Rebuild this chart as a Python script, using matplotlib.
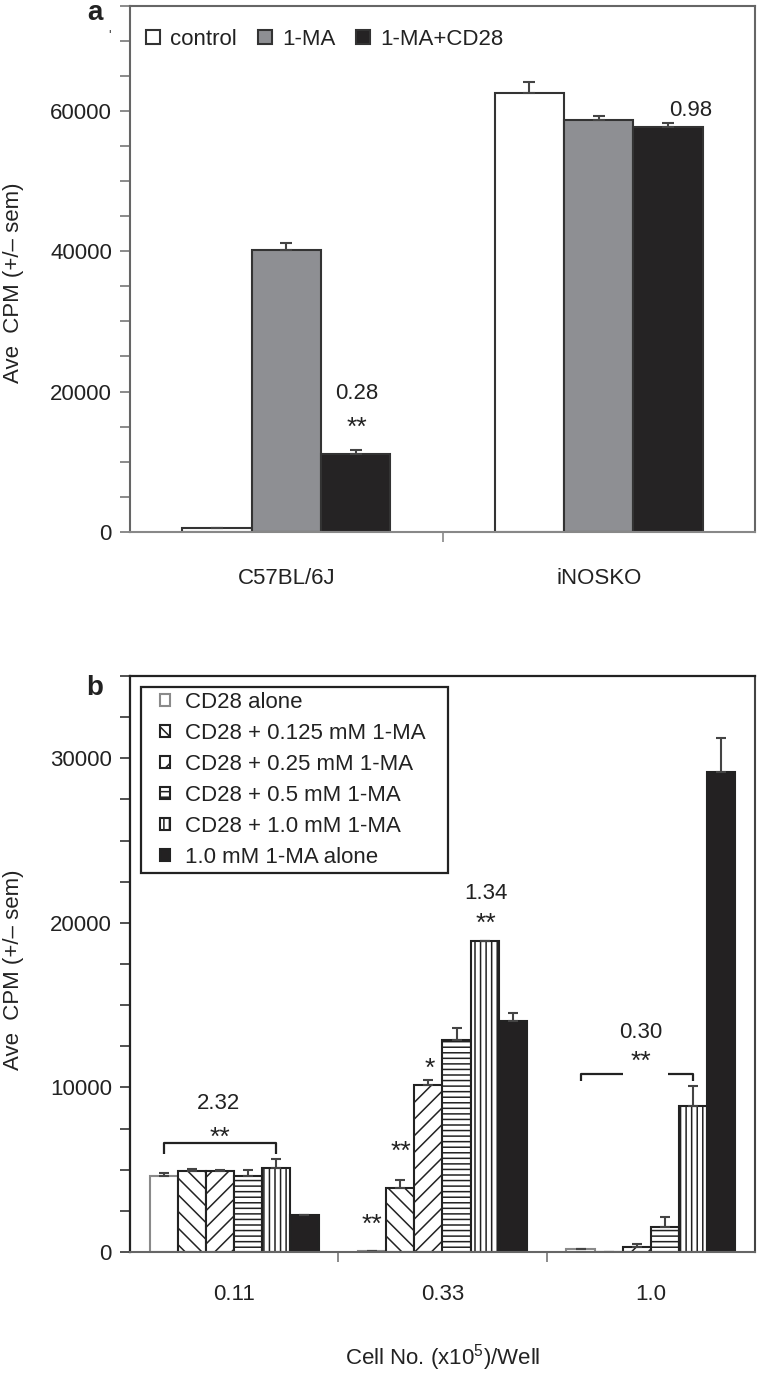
import numpy as np
import matplotlib
matplotlib.use('Agg')
import matplotlib.pyplot as plt
from matplotlib.patches import Rectangle
from matplotlib.ticker import MultipleLocator, FixedLocator, NullFormatter, FixedFormatter

plt.rcParams['font.family'] = ['Liberation Sans', 'DejaVu Sans']
plt.rcParams['mathtext.fontset'] = 'custom'
plt.rcParams['mathtext.rm'] = 'Liberation Sans'
plt.rcParams['mathtext.it'] = 'Liberation Sans:italic'
plt.rcParams['hatch.linewidth'] = 1.1
plt.rcParams['text.color'] = '#222222'

# ---------------- Panel a data ----------------
a_groups = ['C57BL/6J', 'iNOSKO']
a_series = ['control', '1-MA', '1-MA+CD28']
a_control = [490, 62650]
a_control_err = [100, 1450]
a_ma = [40200, 58760]
a_ma_err = [960, 500]
a_macd28 = [11120, 57680]
a_macd28_err = [470, 680]

# ---------------- Panel b data ----------------
b_groups = ['0.11', '0.33', '1.0']
b_series = ['CD28 alone', 'CD28 + 0.125 mM 1-MA', 'CD28 + 0.25 mM 1-MA',
            'CD28 + 0.5 mM 1-MA', 'CD28 + 1.0 mM 1-MA', '1.0 mM 1-MA alone']
b_cd28 = [4600, 60, 170]
b_cd28_err = [170, 0, 0]
b_0125 = [4930, 3900, 0]
b_0125_err = [140, 460, 0]
b_025 = [4930, 10120, 300]
b_025_err = [60, 360, 180]
b_05 = [4600, 12890, 1500]
b_05_err = [370, 710, 600]
b_10 = [5130, 18910, 8870]
b_10_err = [510, 0, 1210]
b_alone = [2240, 14060, 29170]
b_alone_err = [0, 470, 2050]

# annotations (text, x, baseline y)
a_notes = [('0.28', 0.225, 18880), ('**', 0.225, 13830), ('0.98', 1.295, 59240)]
b_notes = [('2.32', -0.074, 8685), ('**', -0.068, 6480),
           ('1.34', 1.209, 21450), ('**', 1.207, 19530),
           ('*', 0.94, 10730), ('**', 0.80, 5640), ('**', 0.662, 1230),
           ('0.30', 1.953, 13030), ('**', 1.953, 11150)]

W, H = 758, 1373
fig = plt.figure(figsize=(W / 100, H / 100), dpi=100)

def note_size(t):
    return 19 if set(t) == {'*'} else 16

# ================= Panel a =================
axa = fig.add_axes([130 / W, 1 - 531.7 / H, 625 / W, 525.7 / H])
xa = np.arange(len(a_groups))
wa = 0.222
a_vals = [a_control, a_ma, a_macd28]
a_errs = [a_control_err, a_ma_err, a_macd28_err]
a_colors = ['white', '#8e8f93', '#252324']
a_handles = []
for i, (vals, errs, col, name) in enumerate(zip(a_vals, a_errs, a_colors, a_series)):
    b = axa.bar(xa + (i - 1) * wa, vals, wa, color=col, edgecolor='#333333', linewidth=1.5,
                yerr=[np.zeros(len(errs)), errs],
                error_kw=dict(ecolor='#444444', elinewidth=1.5, capsize=4.5, capthick=1.5),
                label=name, zorder=2)
    a_handles.append(b)

axa.set_xlim(-0.5, 1.5)
axa.set_ylim(0, 75000)
axa.yaxis.set_major_locator(MultipleLocator(20000))
axa.yaxis.set_minor_locator(MultipleLocator(5000))
axa.tick_params(axis='y', which='both', direction='out', length=7, width=1.2, color='#777777',
                labelsize=16, labelcolor='#222222', pad=6)
axa.xaxis.set_major_locator(FixedLocator([0.5]))
axa.xaxis.set_major_formatter(NullFormatter())
axa.xaxis.set_minor_locator(FixedLocator(list(xa)))
axa.xaxis.set_minor_formatter(FixedFormatter(a_groups))
axa.tick_params(axis='x', which='major', direction='out', length=7, width=1.2, color='#888888')
axa.tick_params(axis='x', which='minor', length=0, labelsize=16, labelcolor='#222222', pad=26)
for s in ['top', 'right', 'left']:
    axa.spines[s].set_color('#666666')
    axa.spines[s].set_linewidth(1.5)
axa.spines['bottom'].set_color('#888888')
axa.spines['bottom'].set_linewidth(1.5)
axa.set_ylabel('Ave  CPM (+/\u2013 sem)', fontsize=16, color='#222222')
axa.yaxis.set_label_coords(-0.1864, 0.474)
axa.yaxis.label.set_va('center')
axa.legend(handles=a_handles, loc='center left', bbox_to_anchor=(0.0256, 0.937), frameon=False,
           ncol=3, handlelength=0.63, handleheight=0.63, handletextpad=0.45, columnspacing=0.95,
           borderpad=0, borderaxespad=0, fontsize=16)
for txt, x, y in a_notes:
    axa.text(x, y, txt, fontsize=note_size(txt), ha='center', va='baseline', color='#222222', zorder=5)

# ================= Panel b =================
axb = fig.add_axes([130 / W, 1 - 1252 / H, 625 / W, 576 / H])
xb = np.arange(len(b_groups))
wb = 0.135
b_vals = [b_cd28, b_0125, b_025, b_05, b_10, b_alone]
b_errs = [b_cd28_err, b_0125_err, b_025_err, b_05_err, b_10_err, b_alone_err]
b_colors = ['white', 'white', 'white', 'white', 'white', '#232122']
b_hatches = [None, '\\\\', '//', '---', '|||', None]
b_edges = ['#8a8a8a', '#222222', '#222222', '#222222', '#222222', '#222222']
b_handles = []
for i, (vals, errs, col, hat, ec, name) in enumerate(zip(b_vals, b_errs, b_colors, b_hatches, b_edges, b_series)):
    b = axb.bar(xb + (i - 2.5) * wb, vals, wb, color=col, edgecolor=ec, linewidth=1.5, hatch=hat,
                yerr=[np.zeros(len(errs)), errs],
                error_kw=dict(ecolor='#444444', elinewidth=1.5, capsize=3.5, capthick=1.5),
                label=name, zorder=2)
    b_handles.append(b)

axb.set_xlim(-0.5, 2.5)
axb.set_ylim(0, 35000)
axb.yaxis.set_major_locator(MultipleLocator(10000))
axb.yaxis.set_minor_locator(MultipleLocator(2500))
axb.tick_params(axis='y', which='both', direction='out', length=7, width=1.2, color='#333333',
                labelsize=16, labelcolor='#222222', pad=6)
axb.xaxis.set_major_locator(FixedLocator([0.5, 1.5]))
axb.xaxis.set_major_formatter(NullFormatter())
axb.xaxis.set_minor_locator(FixedLocator(list(xb)))
axb.xaxis.set_minor_formatter(FixedFormatter(b_groups))
axb.tick_params(axis='x', which='major', direction='out', length=7, width=1.2, color='#777777')
axb.tick_params(axis='x', which='minor', length=0, labelsize=16, labelcolor='#222222', pad=23)
for s in ['top', 'left']:
    axb.spines[s].set_color('#222222')
    axb.spines[s].set_linewidth(1.6)
axb.spines['right'].set_color('#444444')
axb.spines['right'].set_linewidth(1.5)
axb.spines['bottom'].set_color('#666666')
axb.spines['bottom'].set_linewidth(1.5)
axb.set_ylabel('Ave  CPM (+/\u2013 sem)', fontsize=16, color='#222222')
axb.yaxis.set_label_coords(-0.1864, 0.49)
axb.yaxis.label.set_va('center')
axb.set_xlabel('Cell No. (x10$^{5}$)/Well', fontsize=16, color='#222222')
axb.xaxis.set_label_coords(0.5, -0.184)
axb.xaxis.label.set_va('center')

axb.legend(handles=b_handles, loc='center left', bbox_to_anchor=(0.048, 0.82), frameon=False,
           ncol=1, handlelength=0.45, handleheight=0.45, handletextpad=0.68, labelspacing=0.45,
           borderpad=0, borderaxespad=0, fontsize=16)
axb.add_patch(Rectangle((0.0171, 0.658), 0.5088 - 0.0171, 0.9814 - 0.658, transform=axb.transAxes,
                        fill=False, edgecolor='#222222', linewidth=1.6, zorder=4))

for txt, x, y in b_notes:
    axb.text(x, y, txt, fontsize=note_size(txt), ha='center', va='baseline', color='#222222', zorder=5)

# significance brackets spanning bar 0 to bar 4 of a group
def bracket(ax, group, y, drop, gap=None):
    x0 = xb[group] + (0 - 2.5) * wb
    x1 = xb[group] + (4 - 2.5) * wb
    kw = dict(color='#222222', linewidth=1.6, zorder=5, solid_capstyle='butt')
    if gap is None:
        ax.plot([x0, x0, x1, x1], [y - drop, y, y, y - drop], **kw)
    else:
        ax.plot([x0, x0, gap[0]], [y - drop, y, y], **kw)
        ax.plot([gap[1], x1, x1], [y, y, y - drop], **kw)

bracket(axb, 0, 6650, 700)
bracket(axb, 2, 10790, 400, gap=(1.866, 2.082))

# panel letters and a stray mark as in the source
fig.text(95 / W, 1 - 20 / H, 'a', fontsize=20, fontweight='bold', ha='center', va='baseline')
fig.text(95 / W, 1 - 695 / H, 'b', fontsize=20, fontweight='bold', ha='center', va='baseline')
fig.text(110 / W, 1 - 36 / H, "'", fontsize=10, ha='center', va='center', color='#444444')

fig.savefig('out.png', dpi=100)
